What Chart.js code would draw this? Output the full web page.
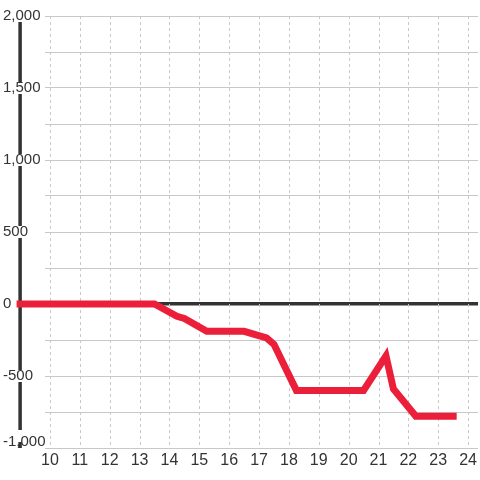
<!DOCTYPE html>
<html>
<head>
<meta charset="utf-8">
<script src="https://cdn.jsdelivr.net/npm/chart.js@4/dist/chart.umd.min.js"></script>
<style>
  html, body { margin: 0; padding: 0; background: #fff; }
  #wrap { width: 480px; height: 480px; }
</style>
</head>
<body>
<div id="wrap"><canvas id="chart"></canvas></div>
<script>
// hours of the day and running balance
const hours = [9, 13.5, 14.25, 14.5, 15.25, 16.5, 17.25, 17.5, 18.25, 20.5, 21.25, 21.5, 22.25, 23.5];
const balance = [0, 0, -85, -100, -190, -190, -235, -280, -600, -600, -360, -590, -780, -780];

const xTicks = [10, 11, 12, 13, 14, 15, 16, 17, 18, 19, 20, 21, 22, 23, 24];
const yTicks = [-1000, -750, -500, -250, 0, 250, 500, 750, 1000, 1250, 1500, 1750, 2000];
const yLabelStep = 500;
const axisHour = 9;

const fmt = new Intl.NumberFormat('en-US');

// thick dark line standing at the start hour, under the tick labels
const leftAxisLine = {
    id: 'leftAxisLine',
    beforeDraw(chart) {
        const { ctx, scales: { x, y } } = chart;
        const px = x.getPixelForValue(axisHour);
        ctx.save();
        ctx.strokeStyle = '#333';
        ctx.lineWidth = 3.5;
        ctx.beginPath();
        ctx.moveTo(px, y.getPixelForValue(y.max));
        ctx.lineTo(px, y.getPixelForValue(y.min));
        ctx.stroke();
        ctx.restore();

        // lift the lowest label a little so it sits inside the plot
        y.getLabelItems().forEach(it => {
            if (it.label === fmt.format(y.min) && !it._lifted) {
                it._lifted = true;
                it.options.translation[1] -= 6;
                if (it.options.backdrop) it.options.backdrop.top -= 6;
            }
        });
    }
};

// dotted vertical grid at each hour tick
const dottedHourGrid = {
    id: 'dottedHourGrid',
    beforeDatasetsDraw(chart) {
        const { ctx, chartArea, scales: { x } } = chart;
        ctx.save();
        ctx.strokeStyle = '#c8c8c8';
        ctx.lineWidth = 1;
        ctx.setLineDash([3, 3]);
        x.ticks.forEach(t => {
            const px = Math.round(x.getPixelForValue(t.value)) + 0.5;
            ctx.beginPath();
            ctx.moveTo(px, chartArea.top);
            ctx.lineTo(px, chartArea.bottom);
            ctx.stroke();
        });
        ctx.restore();
    }
};

new Chart(document.getElementById('chart'), {
    type: 'line',
    data: {
        datasets: [{
            data: hours.map((h, i) => ({ x: h, y: balance[i] })),
            borderColor: '#ec1f3a',
            borderWidth: 7,
            borderCapStyle: 'square',
            pointRadius: 0,
            tension: 0,
            clip: false
        }]
    },
    options: {
        responsive: true,
        maintainAspectRatio: false,
        animation: false,
        layout: { padding: { top: 16, left: 3, right: 0, bottom: 0 } },
        plugins: { legend: { display: false }, tooltip: { enabled: false } },
        scales: {
            x: {
                type: 'linear',
                min: 10 - 5 / 30,
                max: 24 + 10 / 30,
                afterBuildTicks: s => { s.ticks = xTicks.map(v => ({ value: v })); },
                afterFit: s => { s.height = 32; },
                border: { display: false },
                grid: { drawOnChartArea: false, drawTicks: false },
                ticks: {
                    padding: 3,
                    color: '#333',
                    font: { family: '"Liberation Sans", Arial, sans-serif', size: 16 },
                    maxRotation: 0
                }
            },
            y: {
                min: -1000,
                max: 2000,
                afterBuildTicks: s => { s.ticks = yTicks.map(v => ({ value: v })); },
                afterFit: s => { s.width = 42; },
                border: { display: false },
                grid: {
                    drawTicks: false,
                    color: c => c.tick && c.tick.value === 0 ? '#333' : '#c8c8c8',
                    lineWidth: c => c.tick && c.tick.value === 0 ? 3.5 : 1
                },
                ticks: {
                    crossAlign: 'far',
                    padding: 0,
                    color: '#333',
                    font: { family: '"Liberation Sans", Arial, sans-serif', size: 15, lineHeight: 0.8 },
                    showLabelBackdrop: true,
                    backdropColor: '#fff',
                    backdropPadding: { x: 0, y: 0 },
                    callback: v => v % yLabelStep === 0 ? fmt.format(v) : ''
                }
            }
        }
    },
    plugins: [leftAxisLine, dottedHourGrid]
});
</script>
</body>
</html>
